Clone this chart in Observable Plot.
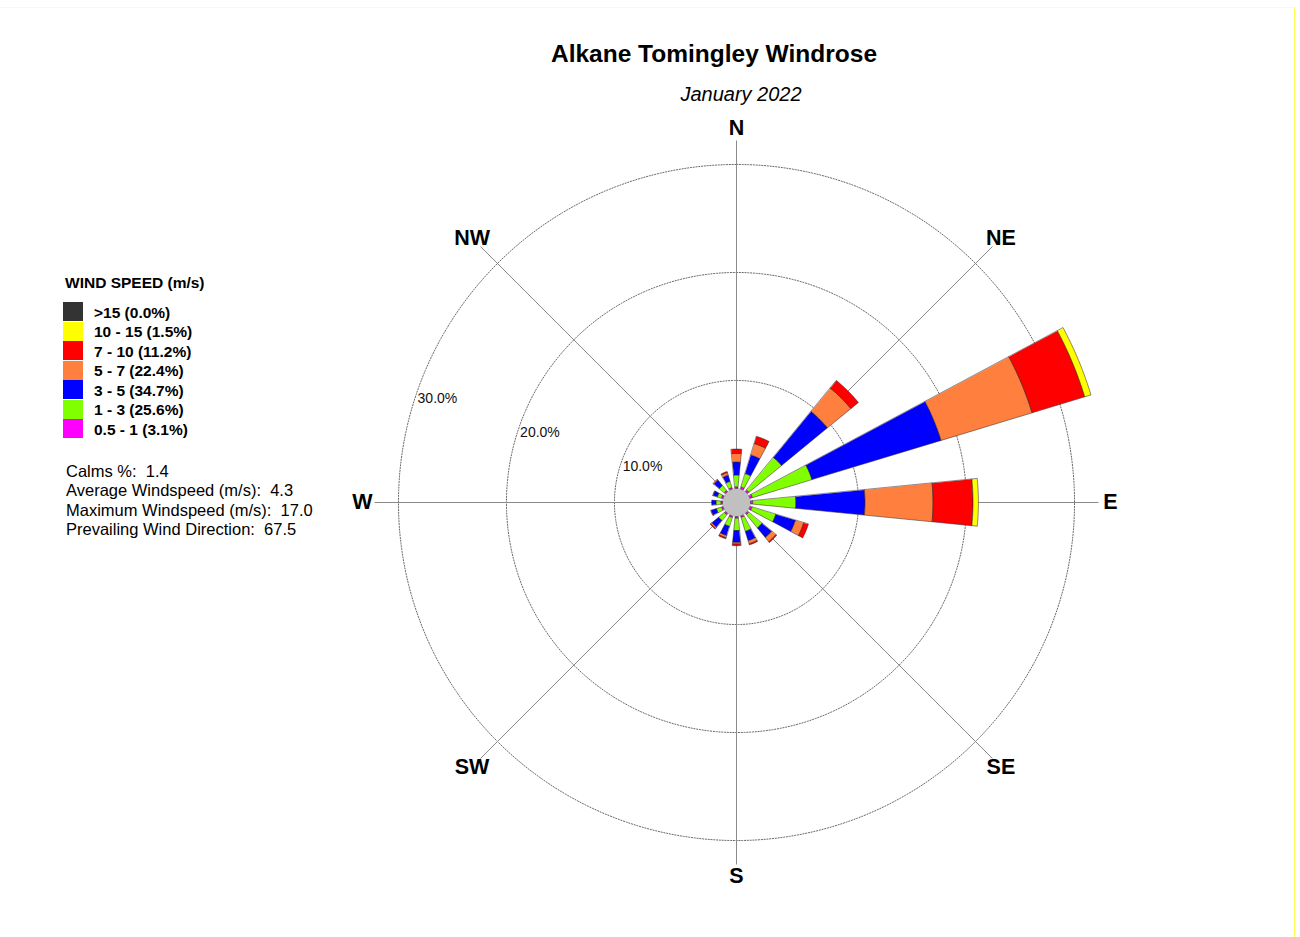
<!DOCTYPE html>
<html>
<head>
<meta charset="utf-8">
<script src="https://cdn.jsdelivr.net/npm/d3@7"></script>
<script src="https://cdn.jsdelivr.net/npm/@observablehq/plot@0.6"></script>
<style>
  html, body { margin: 0; padding: 0; background: #fff; }
  #page { position: relative; width: 1300px; height: 937px; overflow: hidden; background: #fff;
          font-family: "Liberation Sans", Arial, sans-serif; color: #000; }
  .t { position: absolute; white-space: pre; line-height: 1; }
  .sw { position: absolute; width: 20px; height: 19px; }
  #chart { position: absolute; left: 336px; top: 102px; }
  #frameTop { position: absolute; left: 0; top: 7px; width: 1295px; height: 1px; background: #fffcc8; }
  #frameRight { position: absolute; left: 1294px; top: 7px; width: 1px; height: 930px; background: #ffff55; }
</style>
</head>
<body>
<div id="page">
  <div id="frameTop"></div>
  <div id="frameRight"></div>
  <div id="chart"></div>
</div>
<script>
// ---------------- DATA ----------------
const titleText = "Alkane Tomingley Windrose";
const subtitleText = "January 2022";

const directions = ["N","NNE","NE","ENE","E","ESE","SE","SSE","S","SSW","SW","WSW","W","WNW","NW","NNW"];

const speedClasses = ["0.5 - 1", "1 - 3", "3 - 5", "5 - 7", "7 - 10", "10 - 15", ">15"];
const classColors  = ["#ff00ff", "#80ff00", "#0000ff", "#ff7f3f", "#ff0000", "#ffff00", "#333333"];
const classTotals  = [3.1, 25.6, 34.7, 22.4, 11.2, 1.5, 0.0];

// frequency (%) per direction, per speed class
//                 N    NNE  NE   ENE   E    ESE  SE   SSE  S    SSW  SW   WSW  W    WNW  NW   NNW
const spd0_5to1 = [0.15,0.2, 0.2, 0.25, 0.2, 0.2, 0.15,0.15,0.15,0.15,0.15,0.15,0.15,0.15,0.15,0.15];
const spd1to3   = [1.1, 1.3, 3.9, 5.75, 4.0, 2.3, 1.6, 1.35,1.15,0.85,0.7, 0.5, 0.45,0.4, 0.6, 0.6];
const spd3to5   = [1.2, 1.8, 5.5, 12.5, 6.4, 1.9, 1.15,0.9, 1.1, 0.9, 0.8, 0.5, 0.4, 0.4, 0.65,0.6];
const spd5to7   = [0.8, 1.1, 2.8, 8.8,  6.3, 0.8, 0.5, 0.3, 0.15,0.2, 0.15,0.05,0.0, 0.05,0.1, 0.25];
const spd7to10  = [0.4, 0.7, 0.9, 5.1,  3.7, 0.45,0.1, 0.1, 0.15,0.1, 0.05,0.0, 0.0, 0.0, 0.0, 0.1];
const spd10to15 = [0.0, 0.0, 0.0, 0.6,  0.5, 0.0, 0.0, 0.0, 0.0, 0.0, 0.0, 0.0, 0.0, 0.0, 0.0, 0.0];
const spdOver15 = [0.0, 0.0, 0.0, 0.0,  0.0, 0.0, 0.0, 0.0, 0.0, 0.0, 0.0, 0.0, 0.0, 0.0, 0.0, 0.0];

const ringValues = [10, 20, 30];
const compassLabels = ["N","NE","E","SE","S","SW","W","NW"];

const statLabels = ["Calms %:", "Average Windspeed (m/s):", "Maximum Windspeed (m/s):", "Prevailing Wind Direction:"];
const statValues = ["1.4", "4.3", "17.0", "67.5"];

const legendTitle = "WIND SPEED (m/s)";

// ---------------- BUILD ----------------
const series = [spd0_5to1, spd1to3, spd3to5, spd5to7, spd7to10, spd10to15, spdOver15];
const calmR = 1.3;            // radius of the calm circle, in % units
const rad = p => calmR + p;   // radial position of a cumulative frequency
const deg = Math.PI / 180;
const halfW = 5.625 * deg;    // half petal width
const pxPerUnit = 10.8;
const size = 800;
const R = size / 2 / pxPerUnit;

// petal segments as closed polygons
const segs = [];
directions.forEach((dir, i) => {
  const th = i * 22.5 * deg;
  let cum = 0;
  series.forEach((vals, k) => {
    const v = vals[i];
    if (!(v > 0)) return;
    const r0 = rad(cum), r1 = rad(cum + v);
    cum += v;
    const id = dir + "-" + k;
    const n = 12;
    for (let j = 0; j <= n; j++) {
      const a = th - halfW + 2 * halfW * j / n;
      segs.push({id, cls: speedClasses[k], x: r1 * Math.sin(a), y: r1 * Math.cos(a)});
    }
    for (let j = n; j >= 0; j--) {
      const a = th - halfW + 2 * halfW * j / n;
      segs.push({id, cls: speedClasses[k], x: r0 * Math.sin(a), y: r0 * Math.cos(a)});
    }
  });
});

// rings
const ringPts = [];
ringValues.forEach(p => {
  for (let j = 0; j < 360; j++) {
    const a = j * deg;
    ringPts.push({ring: p, x: rad(p) * Math.sin(a), y: rad(p) * Math.cos(a)});
  }
});
// calm circle
const calmPts = d3.range(0, 360, 3).map(j => ({x: calmR * Math.sin(j * deg), y: calmR * Math.cos(j * deg)}));

const axisLen = 362 / pxPerUnit;
const labelR = 374 / pxPerUnit;
const axes = compassLabels.map((name, i) => ({name, a: i * 45 * deg}));
const ringLabelBearing = 288.3 * deg;

const chart = Plot.plot({
  width: size, height: size, margin: 0,
  style: {background: "transparent", fontFamily: "'Liberation Sans', Arial, sans-serif", overflow: "visible"},
  x: {domain: [-R, R], axis: null},
  y: {domain: [-R, R], axis: null},
  color: {type: "ordinal", domain: speedClasses, range: classColors},
  marks: [
    Plot.line(ringPts, {x: "x", y: "y", z: "ring", curve: "linear-closed", stroke: "#6a6a6a",
      strokeWidth: 1, strokeDasharray: "1.2,1.6"}),
    Plot.link(axes, {x1: 0, y1: 0, x2: d => axisLen * Math.sin(d.a), y2: d => axisLen * Math.cos(d.a),
      stroke: "#8a8a8a", strokeWidth: 1}),
    Plot.line(calmPts, {x: "x", y: "y", curve: "linear-closed", fill: "#c0c0c0", stroke: "#b8b8b8", strokeWidth: 0.5}),
    Plot.line(segs, {x: "x", y: "y", z: "id", fill: "cls", curve: "linear-closed",
      stroke: "#2b2020", strokeWidth: 0.6, strokeOpacity: 0.85}),
    Plot.text(axes, {x: d => labelR * Math.sin(d.a), y: d => labelR * Math.cos(d.a), text: "name",
      fontSize: 21.5, fontWeight: "bold", fill: "#000"}),
    Plot.text(ringValues, {x: d => rad(d) * Math.sin(ringLabelBearing), y: d => rad(d) * Math.cos(ringLabelBearing),
      text: d => d.toFixed(1) + "%", textAnchor: "start", dx: 2, dy: 2, fontSize: 14, fill: "#111"})
  ]
});
document.getElementById("chart").appendChild(chart);

// ---------------- TEXT / LEGEND (HTML) ----------------
const page = document.getElementById("page");
function place(text, {x, baseline, size, weight = "normal", style = "normal", anchor = "start", color = "#000"}) {
  const el = document.createElement("div");
  el.className = "t";
  el.textContent = text;
  el.style.fontSize = size + "px";
  el.style.fontWeight = weight;
  el.style.fontStyle = style;
  el.style.color = color;
  el.style.top = (baseline - 0.8465 * size) + "px";
  if (anchor === "middle") { el.style.left = x + "px"; el.style.transform = "translateX(-50%)"; }
  else el.style.left = x + "px";
  page.appendChild(el);
  return el;
}
place(titleText, {x: 714, baseline: 63, size: 24.5, weight: "bold", anchor: "middle"});
place(subtitleText, {x: 741, baseline: 100.5, size: 20, style: "italic", anchor: "middle"});
place(legendTitle, {x: 65, baseline: 288, size: 15.5, weight: "bold"});

const order = d3.range(speedClasses.length).reverse();
order.forEach((k, row) => {
  const top = 302 + 19.5 * row;
  const sw = document.createElement("div");
  sw.className = "sw";
  sw.style.left = "62.5px";
  sw.style.top = top + "px";
  sw.style.background = classColors[k];
  page.appendChild(sw);
  place(`${speedClasses[k]} (${classTotals[k].toFixed(1)}%)`, {x: 94, baseline: top + 16, size: 15.5, weight: "bold"});
});

statLabels.forEach((lab, i) => {
  place(`${lab}  ${statValues[i]}`, {x: 66, baseline: 476.5 + 19.5 * i, size: 16.5});
});
</script>
</body>
</html>
